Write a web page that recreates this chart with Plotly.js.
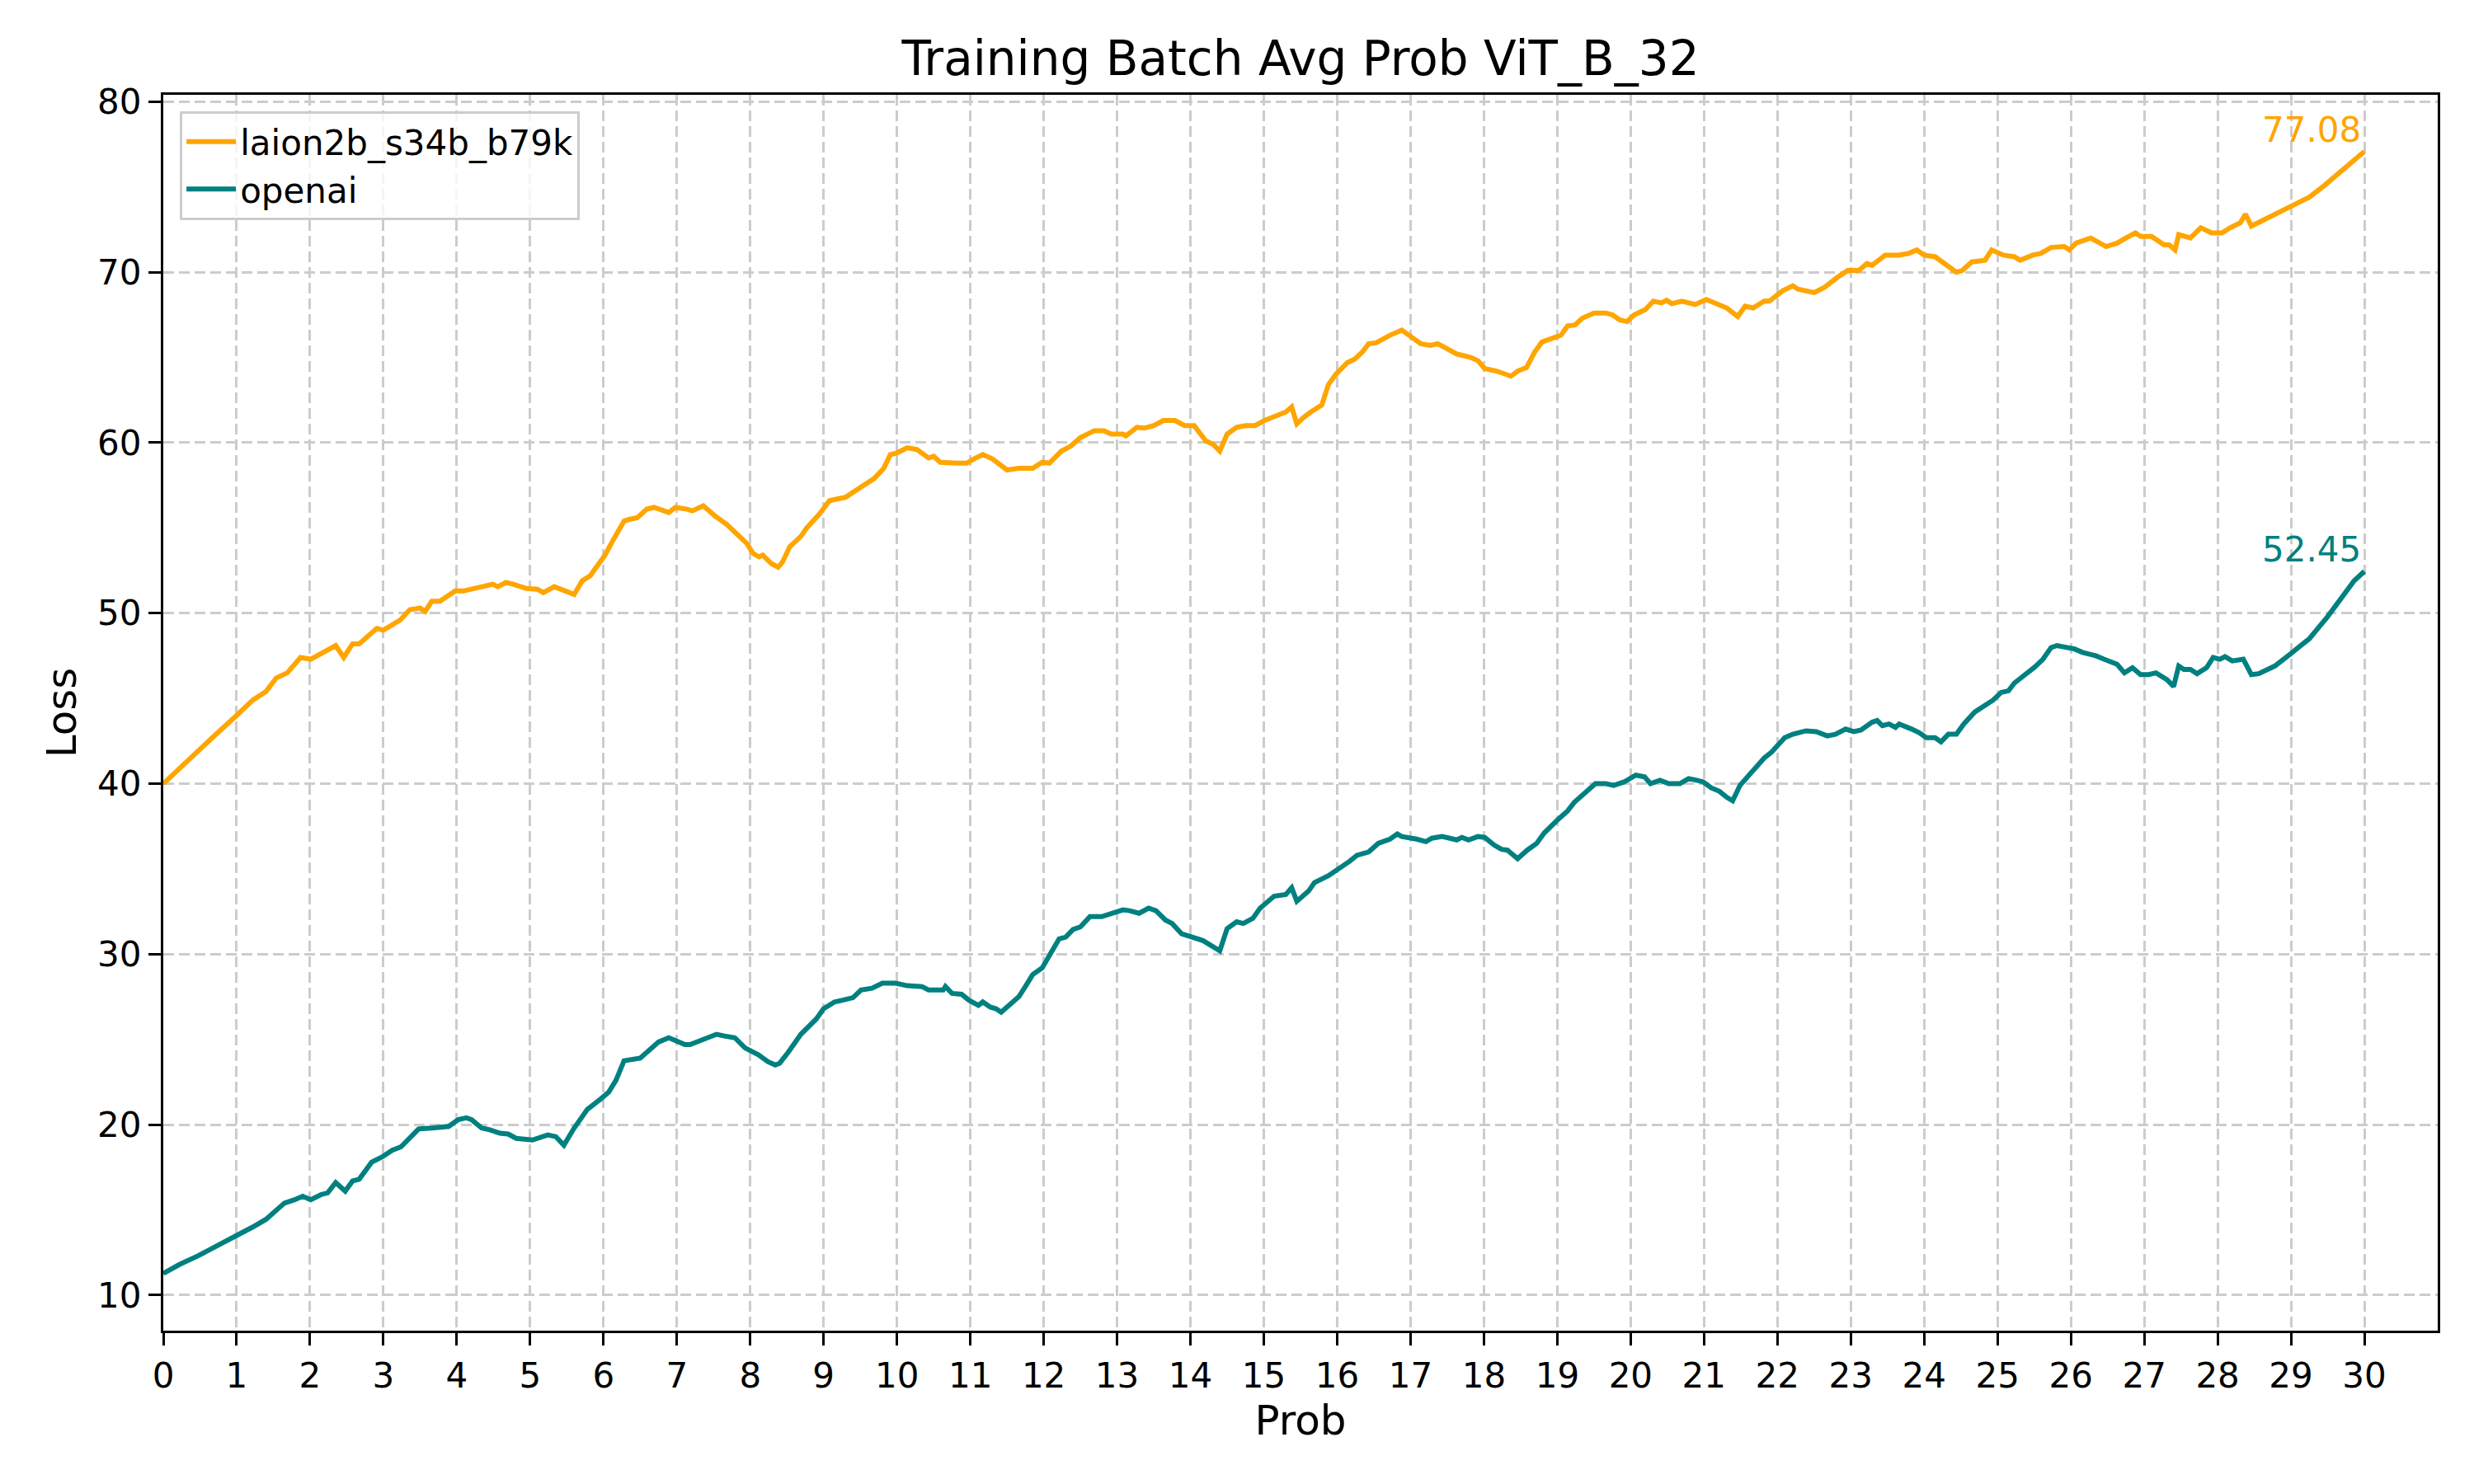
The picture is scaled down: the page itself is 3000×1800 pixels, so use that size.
<!DOCTYPE html>
<html>
<head>
<meta charset="utf-8">
<script src="https://cdn.plot.ly/plotly-3.0.1.min.js"></script>
<style>html,body{margin:0;padding:0;background:#fff;}#chart{width:3000px;height:1800px;}</style>
</head>
<body>
<div id="chart"></div>
<script>
// Series: laion2b_s34b_b79k
const laionProb = [0,0.22,0.43,0.72,1.0,1.22,1.40,1.54,1.69,1.87,2.01,2.26,2.35,2.46,2.58,2.67,2.91,3.0,3.23,3.36,3.5,3.57,3.66,3.77,3.98,4.09,4.27,4.49,4.56,4.67,4.77,4.95,5.1,5.18,5.33,5.46,5.6,5.71,5.82,5.92,6.02,6.12,6.28,6.35,6.46,6.59,6.69,6.89,6.98,7.14,7.21,7.36,7.41,7.52,7.68,7.82,7.95,8.04,8.12,8.17,8.29,8.38,8.44,8.54,8.69,8.77,8.94,9.08,9.19,9.3,9.51,9.69,9.82,9.91,10.0,10.14,10.27,10.43,10.5,10.59,10.82,10.95,11.05,11.17,11.3,11.5,11.66,11.85,11.98,12.08,12.24,12.37,12.5,12.69,12.82,12.92,13.08,13.12,13.27,13.37,13.5,13.63,13.79,13.92,14.05,14.11,14.21,14.31,14.4,14.5,14.63,14.75,14.88,15.01,15.17,15.3,15.38,15.45,15.55,15.64,15.79,15.88,15.98,16.14,16.24,16.34,16.43,16.53,16.72,16.88,17.01,17.14,17.27,17.37,17.5,17.63,17.82,17.92,18.01,18.17,18.37,18.46,18.58,18.69,18.79,18.95,19.05,19.14,19.24,19.34,19.5,19.66,19.75,19.85,19.95,20.05,20.14,20.2,20.31,20.42,20.49,20.56,20.7,20.88,21.03,21.21,21.31,21.46,21.56,21.67,21.82,21.89,22.07,22.21,22.28,22.5,22.64,22.82,22.96,23.11,23.22,23.29,23.36,23.47,23.65,23.79,23.9,24.0,24.15,24.29,24.44,24.52,24.65,24.83,24.92,25.08,25.23,25.31,25.48,25.59,25.73,25.91,25.98,26.07,26.27,26.48,26.63,26.75,26.88,26.95,27.1,27.27,27.34,27.42,27.47,27.63,27.77,27.92,28.06,28.17,28.31,28.38,28.46,28.6,28.78,28.99,29.25,29.46,29.68,29.82,30.0];
const laionLoss = [40.0,40.9,41.8,42.9,44.0,44.9,45.4,46.2,46.5,47.4,47.3,47.9,48.1,47.4,48.2,48.2,49.1,49.0,49.6,50.2,50.3,50.1,50.7,50.7,51.3,51.3,51.45,51.7,51.55,51.8,51.7,51.45,51.4,51.2,51.55,51.3,51.1,51.9,52.2,52.8,53.4,54.2,55.4,55.5,55.6,56.1,56.2,55.9,56.2,56.1,56.0,56.3,56.1,55.7,55.2,54.6,54.1,53.5,53.3,53.4,52.9,52.7,53.0,53.9,54.5,55.0,55.8,56.6,56.7,56.8,57.4,57.9,58.5,59.3,59.4,59.7,59.6,59.1,59.2,58.85,58.8,58.8,59.05,59.3,59.05,58.4,58.5,58.5,58.85,58.8,59.5,59.8,60.3,60.7,60.7,60.5,60.5,60.4,60.9,60.85,61.0,61.3,61.3,61.0,61.0,60.7,60.1,59.9,59.5,60.5,60.9,61.0,61.0,61.3,61.6,61.8,62.1,61.1,61.5,61.8,62.2,63.4,64.0,64.7,64.9,65.3,65.8,65.85,66.3,66.6,66.2,65.8,65.7,65.8,65.5,65.2,65.0,64.8,64.35,64.2,63.9,64.2,64.4,65.3,65.9,66.1,66.3,66.85,66.9,67.3,67.6,67.6,67.5,67.2,67.1,67.5,67.7,67.8,68.3,68.2,68.35,68.15,68.3,68.1,68.4,68.1,67.9,67.4,68.0,67.9,68.3,68.3,68.9,69.2,69.0,68.8,69.1,69.7,70.1,70.1,70.5,70.4,70.6,71.0,71.0,71.1,71.3,71.0,70.9,70.5,70.0,70.1,70.6,70.7,71.3,71.0,70.9,70.7,71.0,71.1,71.45,71.5,71.3,71.7,72.0,71.5,71.7,72.0,72.3,72.1,72.1,71.6,71.6,71.3,72.2,72.0,72.6,72.3,72.3,72.6,72.9,73.4,72.7,73.0,73.4,73.8,74.4,75.1,75.9,76.45,77.08];

// Series: openai
const openaiProb = [0,0.22,0.47,0.72,0.99,1.22,1.4,1.51,1.65,1.79,1.9,2.01,2.15,2.24,2.35,2.48,2.58,2.67,2.76,2.84,2.98,3.12,3.24,3.37,3.48,3.66,3.8,3.89,4.02,4.13,4.2,4.34,4.45,4.59,4.7,4.81,5.03,5.13,5.24,5.35,5.46,5.6,5.69,5.78,5.96,6.07,6.17,6.28,6.5,6.6,6.75,6.89,7.0,7.11,7.18,7.29,7.43,7.54,7.65,7.79,7.93,8.11,8.24,8.34,8.4,8.51,8.69,8.9,9.0,9.15,9.26,9.4,9.51,9.66,9.8,9.98,10.14,10.34,10.43,10.63,10.66,10.75,10.88,10.98,11.11,11.17,11.27,11.35,11.42,11.53,11.66,11.75,11.85,11.98,12.08,12.21,12.3,12.4,12.5,12.63,12.79,12.95,13.08,13.17,13.3,13.43,13.53,13.66,13.75,13.88,14.01,14.17,14.4,14.5,14.63,14.72,14.85,14.95,15.14,15.3,15.38,15.45,15.61,15.69,15.88,16.01,16.17,16.27,16.37,16.43,16.56,16.72,16.82,16.88,17.08,17.21,17.29,17.43,17.63,17.7,17.79,17.92,18.01,18.14,18.24,18.32,18.46,18.59,18.72,18.82,19.01,19.14,19.23,19.38,19.52,19.66,19.77,19.91,20.07,20.19,20.27,20.4,20.52,20.67,20.79,20.9,20.99,21.1,21.21,21.31,21.39,21.49,21.64,21.82,21.92,22.1,22.21,22.39,22.53,22.68,22.79,22.93,23.04,23.14,23.29,23.36,23.43,23.52,23.61,23.66,23.83,23.93,24.03,24.15,24.23,24.33,24.44,24.54,24.69,24.83,24.94,25.05,25.15,25.23,25.41,25.51,25.62,25.73,25.81,25.91,26.05,26.16,26.25,26.34,26.45,26.63,26.73,26.84,26.95,27.06,27.16,27.31,27.4,27.47,27.54,27.63,27.72,27.85,27.94,28.03,28.1,28.2,28.35,28.46,28.56,28.78,28.99,29.25,29.5,29.71,29.86,30.0];
const openaiLoss = [11.27,11.8,12.3,12.85,13.5,14.0,14.45,14.9,15.4,15.6,15.8,15.6,15.9,16.0,16.6,16.1,16.7,16.8,17.3,17.8,18.1,18.5,18.7,19.3,19.75,19.8,19.9,19.9,20.3,20.4,20.3,19.8,19.7,19.5,19.45,19.2,19.1,19.25,19.4,19.3,18.8,19.8,20.3,20.9,21.5,21.9,22.6,23.75,23.9,24.3,24.85,25.1,24.9,24.7,24.7,24.9,25.1,25.3,25.2,25.1,24.5,24.1,23.7,23.5,23.6,24.2,25.3,26.2,26.8,27.2,27.3,27.45,27.9,28.0,28.3,28.3,28.15,28.1,27.9,27.9,28.1,27.7,27.65,27.3,27.0,27.2,26.9,26.8,26.6,27.0,27.5,28.1,28.8,29.2,30.0,30.9,31.0,31.45,31.6,32.2,32.2,32.4,32.6,32.55,32.4,32.7,32.55,32.0,31.8,31.2,31.0,30.8,30.2,31.5,31.9,31.8,32.1,32.7,33.4,33.5,33.9,33.1,33.7,34.2,34.6,34.95,35.45,35.8,35.9,36.0,36.5,36.75,37.05,36.9,36.75,36.6,36.8,36.9,36.7,36.85,36.7,36.9,36.85,36.4,36.15,36.1,35.6,36.1,36.5,37.1,37.9,38.4,38.9,39.5,40.0,40.0,39.9,40.1,40.5,40.4,40.0,40.2,40.0,40.0,40.3,40.2,40.1,39.75,39.55,39.2,39.0,39.9,40.6,41.5,41.85,42.7,42.9,43.1,43.05,42.8,42.9,43.2,43.05,43.15,43.6,43.7,43.4,43.5,43.3,43.5,43.2,43.0,42.7,42.7,42.45,42.9,42.9,43.5,44.2,44.6,44.9,45.35,45.45,45.9,46.5,46.85,47.3,47.98,48.1,48.0,47.9,47.7,47.6,47.5,47.3,47.0,46.5,46.8,46.4,46.4,46.5,46.1,45.7,46.9,46.7,46.7,46.45,46.8,47.4,47.3,47.45,47.2,47.3,46.4,46.45,46.9,47.6,48.5,49.8,51.05,51.9,52.45];

const seriesNames = ['laion2b_s34b_b79k', 'openai'];
const seriesColors = ['orange', 'teal'];
const xTickVals = Array.from({length: 31}, (_, i) => i);
const yTickVals = [10, 20, 30, 40, 50, 60, 70, 80];

const FONT = 'DejaVu Sans, Liberation Sans, sans-serif';

const traces = [
  {x: laionProb, y: laionLoss, name: seriesNames[0], type: 'scatter', mode: 'lines',
   line: {color: seriesColors[0], width: 6}},
  {x: openaiProb, y: openaiLoss, name: seriesNames[1], type: 'scatter', mode: 'lines',
   line: {color: seriesColors[1], width: 6}}
];

const lastLaion = laionLoss[laionLoss.length - 1];
const lastOpenai = openaiLoss[openaiLoss.length - 1];

const axisCommon = {
  showline: true, mirror: true, linecolor: 'black', linewidth: 3.3,
  ticks: 'outside', ticklen: 15, tickwidth: 3.3, tickcolor: 'black',
  tickfont: {family: FONT, size: 42, color: 'black'},
  showgrid: true, gridcolor: '#cccccc', gridwidth: 3, griddash: '13px,6px',
  zeroline: false
};

const layout = {
  width: 3000, height: 1800,
  paper_bgcolor: 'white', plot_bgcolor: 'white',
  margin: {l: 198, r: 44, t: 115, b: 186, pad: 0},
  title: {text: 'Training Batch Avg Prob ViT_B_32', font: {family: FONT, size: 58, color: 'black'},
          x: 0.5, xref: 'paper', xanchor: 'center', y: 1 - 71/1800, yref: 'container', yanchor: 'middle'},
  xaxis: Object.assign({}, axisCommon, {
    range: [0, 31], tickmode: 'array', tickvals: xTickVals, ticktext: xTickVals.map(String),
    title: {text: 'Prob', font: {family: FONT, size: 50, color: 'black'}, standoff: 14}
  }),
  yaxis: Object.assign({}, axisCommon, {
    range: [7.92, 80.4], tickmode: 'array', tickvals: yTickVals, ticktext: yTickVals.map(String),
    title: {text: 'Loss', font: {family: FONT, size: 50, color: 'black'}, standoff: 10}
  }),
  legend: {
    x: 0.0073, y: 0.9867, xanchor: 'left', yanchor: 'top',
    bgcolor: 'rgba(255,255,255,0.8)', bordercolor: '#cccccc', borderwidth: 3,
    font: {family: FONT, size: 42, color: 'black'}, tracegroupgap: 0, itemwidth: 60
  },
  showlegend: true,
  annotations: [
    {x: 30, y: lastLaion, xref: 'x', yref: 'y', text: lastLaion.toFixed(2), showarrow: false,
     xanchor: 'right', yanchor: 'bottom', xshift: -2, yshift: 0,
     font: {family: FONT, size: 42, color: seriesColors[0]}},
    {x: 30, y: lastOpenai, xref: 'x', yref: 'y', text: lastOpenai.toFixed(2), showarrow: false,
     xanchor: 'right', yanchor: 'bottom', xshift: -2, yshift: 0,
     font: {family: FONT, size: 42, color: seriesColors[1]}}
  ]
};

Plotly.newPlot('chart', traces, layout, {displayModeBar: false, responsive: false});
</script>
</body>
</html>
